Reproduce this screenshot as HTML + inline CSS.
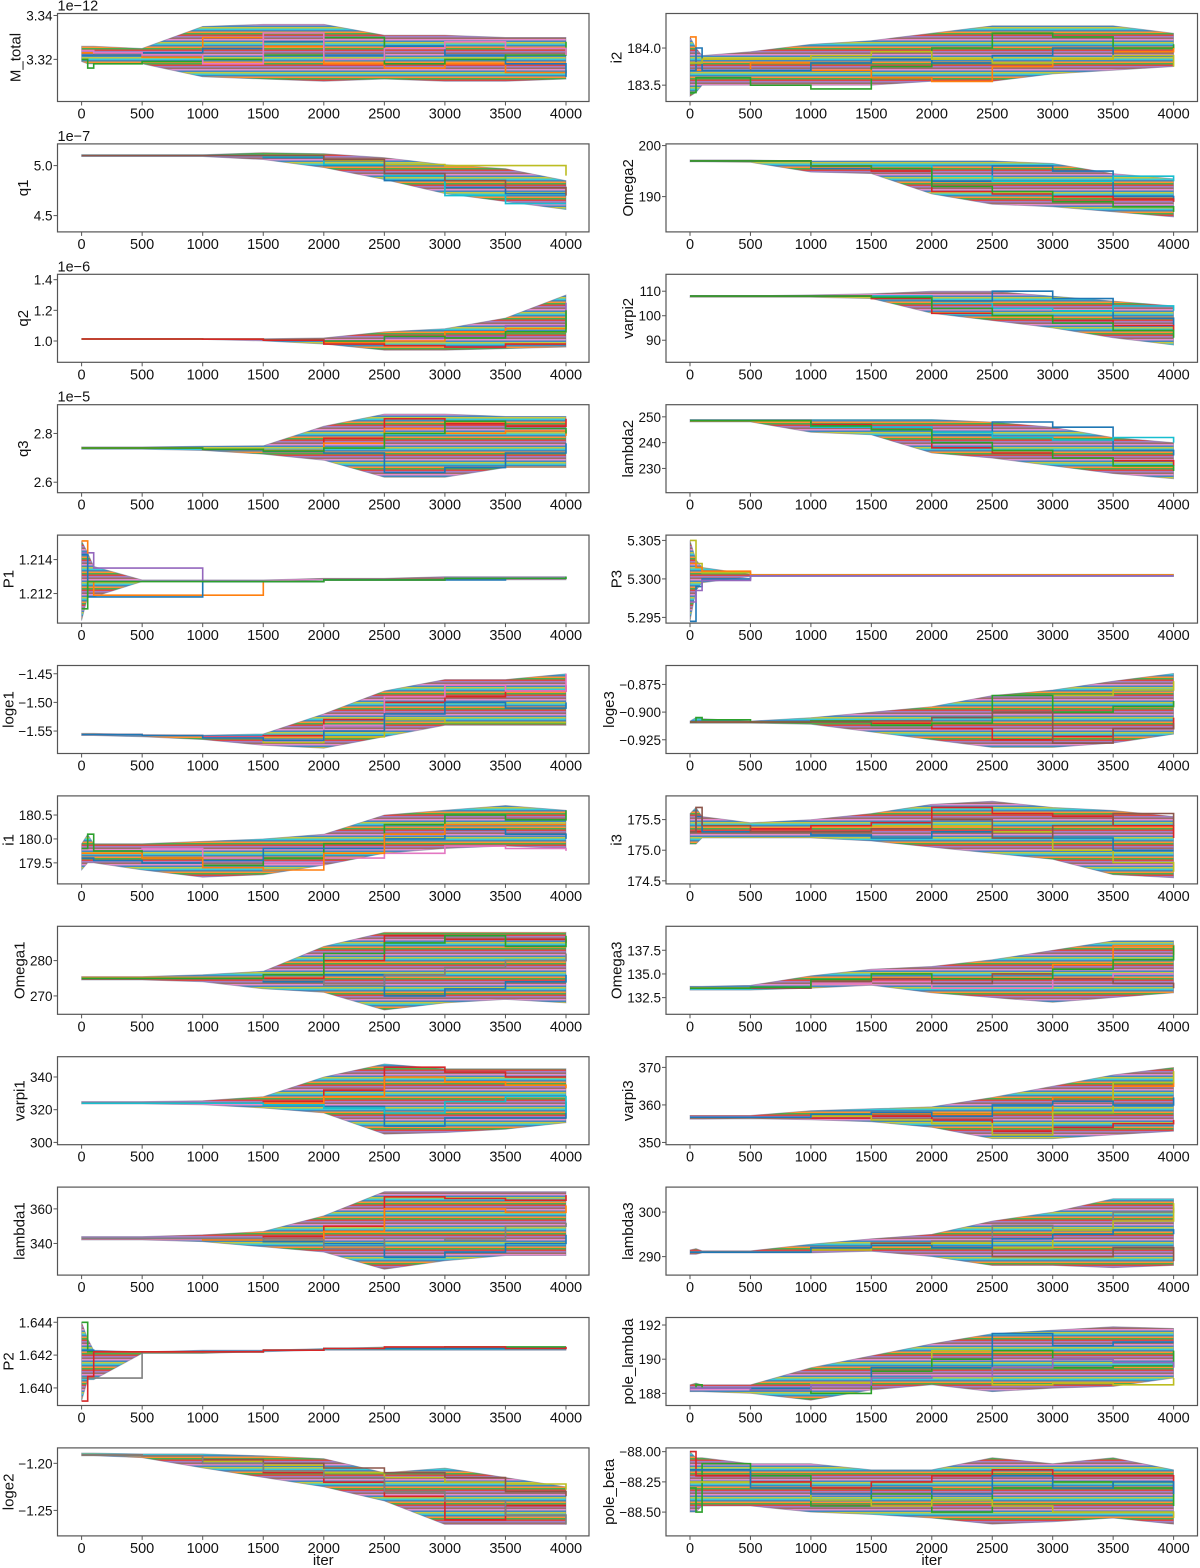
<!DOCTYPE html>
<html><head><meta charset="utf-8">
<style>
html,body{margin:0;padding:0;background:#fff;}
svg{display:block;font-family:"Liberation Sans","DejaVu Sans",sans-serif;}
</style></head>
<body>
<svg id="fig" width="1200" height="1568" viewBox="0 0 1200 1568" xmlns="http://www.w3.org/2000/svg">
<defs>
<pattern id="mix" width="14" height="15" patternUnits="userSpaceOnUse">
<rect x="0" y="0" width="14" height="15" fill="#8a8a9a"/>
<rect x="0" y="0" width="14" height="1.5" fill="#1f77b4"/><rect x="0" y="1.5" width="14" height="1.5" fill="#ff7f0e"/>
<rect x="0" y="3" width="14" height="1.5" fill="#2ca02c"/><rect x="0" y="4.5" width="14" height="1.5" fill="#d62728"/>
<rect x="0" y="6" width="14" height="1.5" fill="#9467bd"/><rect x="0" y="7.5" width="14" height="1.5" fill="#8c564b"/>
<rect x="0" y="9" width="14" height="1.5" fill="#e377c2"/><rect x="0" y="10.5" width="14" height="1.5" fill="#1f77b4"/>
<rect x="0" y="12" width="14" height="1.5" fill="#bcbd22"/><rect x="0" y="13.5" width="14" height="1.5" fill="#17becf"/>
</pattern>
</defs>
</svg>
<script>
const iters=[0,50,100,500,1000,1500,2000,2500,3000,3500,4000];
const xTicks=[0,500,1000,1500,2000,2500,3000,3500,4000];

const mtotalLo=[3.319,3.318,3.318,3.318,3.312,3.311,3.310,3.311,3.310,3.310,3.311];
const mtotalHi=[3.326,3.326,3.326,3.325,3.335,3.336,3.336,3.331,3.331,3.330,3.330];
const mtotalW1=[3.323,3.323,3.322,3.321,3.330,3.326,3.318,3.316,3.318,3.314,3.315];
const mtotalW2=[3.322,3.322,3.322,3.323,3.325,3.328,3.322,3.326,3.322,3.318,3.312];
const mtotalW3=[3.320,3.316,3.318,3.319,3.320,3.322,3.330,3.318,3.320,3.322,3.328];
const mtotalW4=[3.324,3.324,3.323,3.322,3.318,3.332,3.320,3.325,3.328,3.325,3.322];

const q1Lo=[5.09,5.09,5.09,5.09,5.09,5.06,4.98,4.86,4.72,4.64,4.56];
const q1Hi=[5.11,5.11,5.11,5.11,5.11,5.13,5.12,5.08,5.01,4.97,4.85];
const q1W1=[5.10,5.10,5.10,5.10,5.10,5.10,5.05,5.01,5.00,5.00,4.90];
const q1W2=[5.10,5.10,5.10,5.10,5.10,5.08,5.00,4.85,4.78,4.72,4.72];
const q1W3=[5.10,5.10,5.10,5.10,5.10,5.09,5.01,4.90,4.70,4.62,4.62];
const q1W4=[5.10,5.10,5.10,5.10,5.10,5.10,5.06,4.92,4.85,4.78,4.70];

const q2Lo=[1.01,1.01,1.01,1.01,1.01,1.00,0.98,0.94,0.94,0.95,0.96];
const q2Hi=[1.015,1.015,1.015,1.015,1.015,1.015,1.02,1.06,1.08,1.15,1.30];
const q2W1=[1.013,1.013,1.013,1.013,1.012,1.008,1.00,1.02,1.03,1.10,1.25];
const q2W2=[1.013,1.013,1.013,1.013,1.012,1.005,0.99,1.00,1.06,1.08,1.12];
const q2W3=[1.013,1.013,1.013,1.013,1.012,1.006,1.00,1.03,1.02,1.06,1.20];
const q2W4=[1.013,1.013,1.013,1.013,1.012,1.005,0.98,0.97,0.96,0.98,0.98];

const q3Lo=[2.735,2.735,2.735,2.735,2.73,2.715,2.69,2.62,2.62,2.66,2.66];
const q3Hi=[2.745,2.745,2.745,2.745,2.748,2.75,2.83,2.88,2.88,2.87,2.87];
const q3W1=[2.74,2.74,2.74,2.74,2.735,2.725,2.72,2.64,2.66,2.72,2.76];
const q3W2=[2.74,2.74,2.74,2.74,2.735,2.73,2.78,2.86,2.84,2.83,2.86];
const q3W3=[2.74,2.74,2.74,2.74,2.735,2.73,2.76,2.82,2.80,2.81,2.79];
const q3W4=[2.74,2.74,2.74,2.74,2.735,2.728,2.74,2.80,2.85,2.82,2.80];

const p1Lo=[1.2104,1.2118,1.2118,1.2127,1.2127,1.2127,1.2128,1.2128,1.2128,1.2128,1.2128];
const p1Hi=[1.2151,1.2144,1.2136,1.2128,1.2128,1.2128,1.2129,1.2129,1.2130,1.2130,1.2130];
const p1W1=[1.2144,1.2144,1.2135,1.2135,1.2127,1.2127,1.2128,1.2128,1.2129,1.2129,1.2129];
const p1W2=[1.2151,1.2127,1.2119,1.2119,1.2119,1.2127,1.2128,1.2128,1.2129,1.2129,1.2129];
const p1W3=[1.2143,1.2118,1.2118,1.2118,1.2127,1.2127,1.2128,1.2128,1.2128,1.2129,1.2129];
const p1W4=[1.2111,1.2127,1.2127,1.2127,1.2127,1.2127,1.2128,1.2128,1.2129,1.2129,1.2130];

const loge1Lo=[-1.558,-1.558,-1.558,-1.560,-1.565,-1.575,-1.58,-1.56,-1.54,-1.54,-1.54];
const loge1Hi=[-1.554,-1.554,-1.554,-1.556,-1.557,-1.555,-1.52,-1.48,-1.46,-1.46,-1.45];
const loge1W1=[-1.556,-1.556,-1.556,-1.558,-1.560,-1.558,-1.53,-1.50,-1.49,-1.48,-1.47];
const loge1W2=[-1.556,-1.556,-1.556,-1.558,-1.562,-1.57,-1.56,-1.53,-1.535,-1.535,-1.535];
const loge1W3=[-1.556,-1.556,-1.556,-1.558,-1.561,-1.565,-1.54,-1.49,-1.47,-1.48,-1.45];
const loge1W4=[-1.556,-1.556,-1.556,-1.558,-1.562,-1.566,-1.55,-1.52,-1.50,-1.51,-1.50];

const i1Lo=[179.35,179.5,179.5,179.35,179.2,179.25,179.45,179.7,179.8,179.85,179.8];
const i1Hi=[179.9,180.1,179.9,179.9,179.95,180.0,180.1,180.5,180.6,180.7,180.6];
const i1W1=[179.7,179.7,179.7,179.8,179.6,179.5,179.6,179.7,179.85,179.8,179.75];
const i1W2=[179.8,180.1,179.75,179.6,179.45,179.6,179.9,180.3,180.5,180.4,180.6];
const i1W3=[179.6,179.6,179.55,179.5,179.55,179.8,179.8,180.0,180.2,180.1,180.0];
const i1W4=[179.7,179.7,179.7,179.6,179.4,179.35,179.7,180.1,180.3,180.3,180.3];

const omega1Lo=[274.5,274.5,274.5,274.5,274,272,271,266,268,269,268];
const omega1Hi=[275.5,275.5,275.5,275.5,276,277,284,288,288,288,288];
const omega1W1=[275,275,275,275,275,274,276,270,272,274,276];
const omega1W2=[275,275,275,275,275,275,280,287,286,286,285];
const omega1W3=[275,275,275,275,275,274.5,273,276,278,280,282];
const omega1W4=[275,275,275,275,275,276,282,285,287,284,287];

const varpi1Lo=[323.5,323.5,323.5,323.5,323,321,318,305,306,308,312];
const varpi1Hi=[325,325,325,325,325.5,328,340,348,345,345,345];
const varpi1W1=[324,324,324,324,324,323,322,310,315,315,325];
const varpi1W2=[324,324,324,324,324,325,332,346,343,340,340];
const varpi1W3=[324,324,324,324,324,324,328,340,337,335,333];
const varpi1W4=[324,324,324,324,324,323,321,318,325,328,318];

const lambda1Lo=[342,342,342,342,341,338,335,325,330,333,333];
const lambda1Hi=[344,344,344,344,345,347,356,370,370,370,370];
const lambda1W1=[343,343,343,343,343,341,340,332,335,340,345];
const lambda1W2=[343,343,343,343,343,344,350,367,366,365,368];
const lambda1W3=[343,343,343,343,342,342,347,360,360,358,362];
const lambda1W4=[343,343,343,343,343,342,337,343,342,350,352];

const p2Lo=[1.6392,1.6405,1.6405,1.6421,1.6421,1.6422,1.6423,1.6423,1.6423,1.6423,1.6423];
const p2Hi=[1.6440,1.6430,1.6423,1.6422,1.6423,1.6423,1.6424,1.6425,1.6425,1.6425,1.6425];
const p2W1=[1.6406,1.6406,1.6406,1.6422,1.6422,1.6423,1.6424,1.6424,1.6424,1.6424,1.6424];
const p2W2=[1.6440,1.6422,1.6422,1.6422,1.6422,1.6423,1.6424,1.6424,1.6425,1.6425,1.6425];
const p2W3=[1.6423,1.6423,1.6422,1.6422,1.6422,1.6423,1.6424,1.6424,1.6424,1.6424,1.6424];
const p2W4=[1.6392,1.6407,1.6422,1.6422,1.6422,1.6423,1.6424,1.6425,1.6425,1.6424,1.6425];

const loge2Lo=[-1.192,-1.192,-1.192,-1.194,-1.205,-1.215,-1.225,-1.24,-1.265,-1.265,-1.265];
const loge2Hi=[-1.189,-1.189,-1.189,-1.190,-1.190,-1.192,-1.195,-1.210,-1.205,-1.215,-1.225];
const loge2W1=[-1.191,-1.191,-1.191,-1.192,-1.200,-1.210,-1.220,-1.235,-1.260,-1.245,-1.245];
const loge2W2=[-1.191,-1.191,-1.191,-1.192,-1.198,-1.202,-1.210,-1.215,-1.220,-1.222,-1.228];
const loge2W3=[-1.191,-1.191,-1.191,-1.192,-1.196,-1.200,-1.205,-1.210,-1.215,-1.230,-1.235];
const loge2W4=[-1.191,-1.191,-1.191,-1.192,-1.200,-1.208,-1.215,-1.230,-1.240,-1.255,-1.265];

const i2Lo=[183.35,183.4,183.5,183.5,183.5,183.5,183.55,183.55,183.65,183.7,183.75];
const i2Hi=[184.15,184.0,183.9,183.95,184.05,184.1,184.2,184.3,184.3,184.3,184.2];
const i2W1=[183.4,183.6,183.6,183.5,183.45,183.75,184.0,184.2,184.15,184.0,184.05];
const i2W2=[184.15,183.7,183.7,183.8,183.7,183.6,183.55,183.75,183.85,183.95,184.0];
const i2W3=[183.7,184.0,183.7,183.7,183.8,183.85,183.8,183.9,184.0,183.9,183.9];
const i2W4=[183.8,183.8,183.85,183.85,183.9,183.95,183.85,183.8,183.85,183.9,183.75];

const omega2Lo=[196.8,196.8,196.8,196.7,194.8,194.5,190.5,188.5,188,187,186];
const omega2Hi=[197.2,197.2,197.2,197.2,197,197,197,197,196.5,194.5,193.5];
const omega2W1=[197,197,197,197,195.5,195.5,193,196,195,190,189];
const omega2W2=[197,197,197,197,196,196,194,193,193,194,193];
const omega2W3=[197,197,197,197,196,195,191,190.5,190,189.5,189];
const omega2W4=[197,197,197,197,196,195.5,192,191,189,188,187];

const varpi2Lo=[107.5,107.5,107.5,107.5,107.5,107,101,98,95,91,88];
const varpi2Hi=[108.2,108.2,108.2,108.2,108.5,109,110,110,108,106,104];
const varpi2W1=[108,108,108,108,108,108,106,110,107,99,96];
const varpi2W2=[108,108,108,108,108,108,105,103,102,104,102];
const varpi2W3=[108,108,108,108,108,107,101,100,98,96,94];
const varpi2W4=[108,108,108,108,108,107.5,103,100,97,94,91];

const lambda2Lo=[248,248,248,248,244,243,236,234,231,228,226];
const lambda2Hi=[249,249,249,249,249,249,249,248,246,242,240];
const lambda2W1=[248.5,248.5,248.5,248.5,246,246,243,248,246,237,235];
const lambda2W2=[248.5,248.5,248.5,248.5,246,246,244,242,241,242,240];
const lambda2W3=[248.5,248.5,248.5,248.5,247,245,238,236,234,233,231];
const lambda2W4=[248.5,248.5,248.5,248.5,246.5,245,240,237,234,231,229];

const p3Lo=[5.2945,5.2985,5.2995,5.3003,5.3003,5.3003,5.3003,5.3003,5.3003,5.3003,5.3003];
const p3Hi=[5.3050,5.3025,5.3015,5.3006,5.3006,5.3006,5.3006,5.3006,5.3006,5.3006,5.3006];
const p3W1=[5.3050,5.3020,5.3008,5.3005,5.3005,5.3005,5.3005,5.3005,5.3005,5.3005,5.3005];
const p3W2=[5.2945,5.2990,5.3000,5.3004,5.3004,5.3004,5.3004,5.3004,5.3004,5.3004,5.3004];
const p3W3=[5.3020,5.3015,5.3010,5.3005,5.3005,5.3005,5.3005,5.3005,5.3005,5.3005,5.3005];
const p3W4=[5.2970,5.2985,5.2998,5.3004,5.3004,5.3004,5.3004,5.3004,5.3004,5.3004,5.3004];

const loge3Lo=[-0.910,-0.910,-0.910,-0.910,-0.911,-0.918,-0.925,-0.932,-0.932,-0.928,-0.92];
const loge3Hi=[-0.908,-0.905,-0.906,-0.908,-0.905,-0.900,-0.895,-0.885,-0.880,-0.872,-0.865];
const loge3W1=[-0.909,-0.909,-0.909,-0.909,-0.908,-0.910,-0.915,-0.925,-0.922,-0.915,-0.905];
const loge3W2=[-0.909,-0.909,-0.909,-0.909,-0.909,-0.912,-0.905,-0.905,-0.885,-0.880,-0.872];
const loge3W3=[-0.909,-0.905,-0.907,-0.909,-0.908,-0.912,-0.910,-0.885,-0.900,-0.895,-0.890];
const loge3W4=[-0.909,-0.909,-0.909,-0.909,-0.909,-0.908,-0.905,-0.900,-0.928,-0.915,-0.910];

const i3Lo=[175.1,175.1,175.2,175.2,175.2,175.15,175.05,174.95,174.85,174.6,174.55];
const i3Hi=[175.6,175.7,175.55,175.45,175.5,175.6,175.75,175.8,175.7,175.65,175.55];
const i3W1=[175.3,175.3,175.3,175.3,175.3,175.4,175.4,175.3,175.0,174.8,174.65];
const i3W2=[175.3,175.3,175.3,175.35,175.4,175.45,175.7,175.6,175.55,175.4,175.2];
const i3W3=[175.3,175.55,175.3,175.3,175.25,175.2,175.3,175.2,175.2,175.0,175.0];
const i3W4=[175.3,175.7,175.4,175.3,175.3,175.35,175.5,175.2,175.4,175.6,175.4];

const omega3Lo=[133.3,133.3,133.3,133.3,133.5,133.8,133,132.5,132,132.5,133];
const omega3Hi=[133.7,133.7,133.7,133.8,134.8,135.5,135.8,136.5,137.5,138.5,138.5];
const omega3W1=[133.5,133.5,133.5,133.5,134,134.5,134.5,135,136,138,137];
const omega3W2=[133.5,133.5,133.5,133.5,134,134.2,133.5,133.5,134.5,135,135];
const omega3W3=[133.5,133.5,133.5,133.5,134.2,134.5,134,135,134.5,134,133.5];
const omega3W4=[133.5,133.5,133.5,133.6,134.4,135,134.5,134.5,135.5,136.5,138];

const varpi3Lo=[356.2,356.2,356.2,356.3,356,355.5,354,351,351,352,353];
const varpi3Hi=[357.2,357.2,357.2,357.2,358.5,359,359.5,362,365,368,370];
const varpi3W1=[356.7,356.7,356.7,356.7,357.2,357.8,357.5,358,362,365,366];
const varpi3W2=[356.7,356.7,356.7,356.7,356.5,357,356,353,354,355,356];
const varpi3W3=[356.7,356.7,356.7,356.7,357,356,355,352,358,366,369];
const varpi3W4=[356.7,356.7,356.7,356.7,357.5,358,357,360,361,360,362];

const lambda3Lo=[290.5,290.5,290.8,290.8,290.8,291.2,290,288,288,287.5,288];
const lambda3Hi=[291.5,291.8,291.3,291.3,292.8,294,295,298,300,303,303];
const lambda3W1=[291,291,291,291,291.8,293,293.5,297,296,300,301];
const lambda3W2=[291,291,291,291,292,293,292,290,290,292,289];
const lambda3W3=[291,291,291,291,291.5,292.5,293,292,296,298,302];
const lambda3W4=[291,291,291,291,292,292.5,292,294,295,296,295];

const poleLambdaLo=[188.1,188.1,188.1,188.0,187.6,188.2,188.5,188.1,188.3,188.4,188.9];
const poleLambdaHi=[188.5,188.6,188.5,188.5,189.5,190.2,190.9,191.5,191.7,191.9,191.8];
const poleLambdaW1=[188.3,188.3,188.3,188.3,188.6,189.5,190.5,188.5,188.6,188.5,188.9];
const poleLambdaW2=[188.3,188.5,188.3,188.2,188.0,189.3,190.0,190.5,189.5,189.6,190.5];
const poleLambdaW3=[188.3,188.3,188.3,188.3,188.5,189.5,189.5,191.5,190.8,191.0,191.0];
const poleLambdaW4=[188.3,188.3,188.3,188.2,188.5,188.9,189.0,189.5,190.0,189.8,189.5];

const poleBetaLo=[-88.5,-88.5,-88.45,-88.45,-88.5,-88.52,-88.55,-88.6,-88.58,-88.55,-88.6];
const poleBetaHi=[-88.0,-88.05,-88.05,-88.1,-88.1,-88.15,-88.15,-88.05,-88.1,-88.05,-88.15];
const poleBetaW1=[-88.3,-88.5,-88.1,-88.2,-88.45,-88.35,-88.5,-88.3,-88.25,-88.3,-88.45];
const poleBetaW2=[-88.25,-88.25,-88.25,-88.3,-88.4,-88.45,-88.4,-88.45,-88.5,-88.5,-88.55];
const poleBetaW3=[-88.0,-88.2,-88.2,-88.25,-88.3,-88.25,-88.2,-88.15,-88.2,-88.2,-88.3];
const poleBetaW4=[-88.15,-88.15,-88.15,-88.3,-88.35,-88.3,-88.35,-88.2,-88.3,-88.25,-88.35];

const panels=[
 {name:"M_total",col:0,row:0,ylim:[3.3008,3.3409],yt:[3.32,3.34],yl:["3.32","3.34"],off:"1e\u221212",lo:mtotalLo,hi:mtotalHi,w:[mtotalW1,mtotalW2,mtotalW3,mtotalW4],wc:["#ff7f0e","#1f77b4","#2ca02c","#e377c2"]},
 {name:"q1",col:0,row:1,ylim:[4.337,5.217],yt:[4.5,5.0],yl:["4.5","5.0"],off:"1e\u22127",lo:q1Lo,hi:q1Hi,w:[q1W1,q1W2,q1W3,q1W4],wc:["#bcbd22","#1f77b4","#17becf","#8c564b"]},
 {name:"q2",col:0,row:2,ylim:[0.861,1.435],yt:[1.0,1.2,1.4],yl:["1.0","1.2","1.4"],off:"1e\u22126",lo:q2Lo,hi:q2Hi,w:[q2W1,q2W2,q2W3,q2W4],wc:["#9467bd","#ff7f0e","#2ca02c","#d62728"]},
 {name:"q3",col:0,row:3,ylim:[2.557,2.918],yt:[2.6,2.8],yl:["2.6","2.8"],off:"1e\u22125",lo:q3Lo,hi:q3Hi,w:[q3W1,q3W2,q3W3,q3W4],wc:["#1f77b4","#d62728","#ff7f0e","#2ca02c"]},
 {name:"P1",col:0,row:4,ylim:[1.21026,1.21544],yt:[1.212,1.214],yl:["1.212","1.214"],lo:p1Lo,hi:p1Hi,w:[p1W1,p1W2,p1W3,p1W4],wc:["#9467bd","#ff7f0e","#1f77b4","#2ca02c"]},
 {name:"loge1",col:0,row:5,ylim:[-1.5892,-1.4356],yt:[-1.55,-1.50,-1.45],yl:["\u22121.55","\u22121.50","\u22121.45"],lo:loge1Lo,hi:loge1Hi,w:[loge1W1,loge1W2,loge1W3,loge1W4],wc:["#d62728","#bcbd22","#e377c2","#1f77b4"]},
 {name:"i1",col:0,row:6,ylim:[179.06,180.9],yt:[179.5,180.0,180.5],yl:["179.5","180.0","180.5"],lo:i1Lo,hi:i1Hi,w:[i1W1,i1W2,i1W3,i1W4],wc:["#e377c2","#2ca02c","#1f77b4","#ff7f0e"]},
 {name:"Omega1",col:0,row:7,ylim:[264.8,289.7],yt:[270,280],yl:["270","280"],lo:omega1Lo,hi:omega1Hi,w:[omega1W1,omega1W2,omega1W3,omega1W4],wc:["#1f77b4","#d62728","#7f7f7f","#2ca02c"]},
 {name:"varpi1",col:0,row:8,ylim:[298.6,352.4],yt:[300,320,340],yl:["300","320","340"],lo:varpi1Lo,hi:varpi1Hi,w:[varpi1W1,varpi1W2,varpi1W3,varpi1W4],wc:["#1f77b4","#d62728","#ff7f0e","#17becf"]},
 {name:"lambda1",col:0,row:9,ylim:[321.7,372.6],yt:[340,360],yl:["340","360"],lo:lambda1Lo,hi:lambda1Hi,w:[lambda1W1,lambda1W2,lambda1W3,lambda1W4],wc:["#1f77b4","#d62728","#ff7f0e","#7f7f7f"]},
 {name:"P2",col:0,row:10,ylim:[1.63893,1.64429],yt:[1.640,1.642,1.644],yl:["1.640","1.642","1.644"],lo:p2Lo,hi:p2Hi,w:[p2W1,p2W2,p2W3,p2W4],wc:["#7f7f7f","#2ca02c","#1f77b4","#d62728"]},
 {name:"loge2",col:0,row:11,ylim:[-1.2771,-1.1836],yt:[-1.25,-1.20],yl:["\u22121.25","\u22121.20"],lo:loge2Lo,hi:loge2Hi,w:[loge2W1,loge2W2,loge2W3,loge2W4],wc:["#d62728","#bcbd22","#8c564b","#7f7f7f"]},
 {name:"i2",col:1,row:0,ylim:[183.28,184.465],yt:[183.5,184.0],yl:["183.5","184.0"],lo:i2Lo,hi:i2Hi,w:[i2W1,i2W2,i2W3,i2W4],wc:["#2ca02c","#ff7f0e","#1f77b4","#bcbd22"]},
 {name:"Omega2",col:1,row:1,ylim:[183.08,200.33],yt:[190,200],yl:["190","200"],lo:omega2Lo,hi:omega2Hi,w:[omega2W1,omega2W2,omega2W3,omega2W4],wc:["#1f77b4","#17becf","#d62728","#2ca02c"]},
 {name:"varpi2",col:1,row:2,ylim:[81.0,116.9],yt:[90,100,110],yl:["90","100","110"],lo:varpi2Lo,hi:varpi2Hi,w:[varpi2W1,varpi2W2,varpi2W3,varpi2W4],wc:["#1f77b4","#17becf","#d62728","#2ca02c"]},
 {name:"lambda2",col:1,row:3,ylim:[220.6,254.7],yt:[230,240,250],yl:["230","240","250"],lo:lambda2Lo,hi:lambda2Hi,w:[lambda2W1,lambda2W2,lambda2W3,lambda2W4],wc:["#1f77b4","#17becf","#d62728","#2ca02c"]},
 {name:"P3",col:1,row:4,ylim:[5.29426,5.30569],yt:[5.295,5.300,5.305],yl:["5.295","5.300","5.305"],lo:p3Lo,hi:p3Hi,w:[p3W1,p3W2,p3W3,p3W4],wc:["#bcbd22","#1f77b4","#ff7f0e","#9467bd"]},
 {name:"loge3",col:1,row:5,ylim:[-0.9374,-0.8579],yt:[-0.925,-0.900,-0.875],yl:["\u22120.925","\u22120.900","\u22120.875"],lo:loge3Lo,hi:loge3Hi,w:[loge3W1,loge3W2,loge3W3,loge3W4],wc:["#d62728","#bcbd22","#2ca02c","#8c564b"]},
 {name:"i3",col:1,row:6,ylim:[174.45,175.887],yt:[174.5,175.0,175.5],yl:["174.5","175.0","175.5"],lo:i3Lo,hi:i3Hi,w:[i3W1,i3W2,i3W3,i3W4],wc:["#bcbd22","#d62728","#1f77b4","#8c564b"]},
 {name:"Omega3",col:1,row:7,ylim:[130.74,140.03],yt:[132.5,135.0,137.5],yl:["132.5","135.0","137.5"],lo:omega3Lo,hi:omega3Hi,w:[omega3W1,omega3W2,omega3W3,omega3W4],wc:["#ff7f0e","#e377c2","#8c564b","#2ca02c"]},
 {name:"varpi3",col:1,row:8,ylim:[349.4,372.85],yt:[350,360,370],yl:["350","360","370"],lo:varpi3Lo,hi:varpi3Hi,w:[varpi3W1,varpi3W2,varpi3W3,varpi3W4],wc:["#ff7f0e","#d62728","#bcbd22","#1f77b4"]},
 {name:"lambda3",col:1,row:9,ylim:[285.85,305.6],yt:[290,300],yl:["290","300"],lo:lambda3Lo,hi:lambda3Hi,w:[lambda3W1,lambda3W2,lambda3W3,lambda3W4],wc:["#7f7f7f","#8c564b","#bcbd22","#1f77b4"]},
 {name:"pole_lambda",col:1,row:10,ylim:[187.29,192.44],yt:[188,190,192],yl:["188","190","192"],lo:poleLambdaLo,hi:poleLambdaHi,w:[poleLambdaW1,poleLambdaW2,poleLambdaW3,poleLambdaW4],wc:["#bcbd22","#2ca02c","#1f77b4","#9467bd"]},
 {name:"pole_beta",col:1,row:11,ylim:[-88.697,-87.969],yt:[-88.5,-88.25,-88.0],yl:["\u221288.50","\u221288.25","\u221288.00"],lo:poleBetaLo,hi:poleBetaHi,w:[poleBetaW1,poleBetaW2,poleBetaW3,poleBetaW4],wc:["#2ca02c","#bcbd22","#d62728","#1f77b4"]}
];

const NS="http://www.w3.org/2000/svg";
const svg=document.getElementById('fig');
const cols=[{left:57.5,right:589,x0:81.6,x1:566,minLab:9},{left:666,right:1197.5,x0:690,x1:1173.6,minLab:609}];
function mk(tag,attrs,parent){const e=document.createElementNS(NS,tag);for(const k in attrs)e.setAttribute(k,attrs[k]);(parent||svg).appendChild(e);return e;}
const FS=13.5;

panels.forEach(p=>{
  const c=cols[p.col];
  const top=13.5+130.4*p.row, bot=top+88;
  const sx=v=>c.x0+(v-0)*(c.x1-c.x0)/4000;
  const sy=v=>bot-(v-p.ylim[0])*(bot-top)/(p.ylim[1]-p.ylim[0]);
  const slug=p.name.toLowerCase().replace(/_/g,'-');
  const g=mk('g',{});
  
  
  const clipId='clip-'+slug;
  const cp=mk('clipPath',{id:clipId},g);
  mk('rect',{x:c.left,y:top,width:c.right-c.left,height:bot-top},cp);
  const plot=mk('g',{'clip-path':'url(#'+clipId+')'},g);
  let pts=[];
  for(let i=0;i<iters.length;i++)pts.push(sx(iters[i]).toFixed(1)+','+sy(p.hi[i]).toFixed(1));
  for(let i=iters.length-1;i>=0;i--)pts.push(sx(iters[i]).toFixed(1)+','+sy(p.lo[i]).toFixed(1));
  const band=mk('polygon',{points:pts.join(' '),fill:'url(#mix)','fill-opacity':'0.85',stroke:'#6a6a8a','stroke-width':'0.8','stroke-opacity':'0.5'},plot);
  
  
  p.w.forEach((arr,k)=>{
    let d='M'+sx(iters[0]).toFixed(1)+','+sy(arr[0]).toFixed(1);
    for(let i=1;i<iters.length;i++){d+=' H'+sx(iters[i]).toFixed(1)+' V'+sy(arr[i]).toFixed(1);}
    const ln=mk('path',{d:d,fill:'none',stroke:p.wc[k],'stroke-width':'1.6'},plot);
    
    
  });
  const fr=mk('rect',{x:c.left,y:top,width:c.right-c.left,height:bot-top,fill:'none',stroke:'#555','stroke-width':'1.2'},g);
  
  
  xTicks.forEach(t=>{
    const x=sx(t);
    mk('line',{x1:x,x2:x,y1:bot,y2:bot+4,stroke:'#555','stroke-width':'1'},g);
    const tx=mk('text',{x:x,y:bot+17,'text-anchor':'middle','font-size':FS+1,fill:'#111'},g);
    tx.textContent=String(t);
    
    
  });
  let maxW=0;
  p.yt.forEach((t,i)=>{
    const y=sy(t);
    mk('line',{x1:c.left-4,x2:c.left,y1:y,y2:y,stroke:'#555','stroke-width':'1'},g);
    const tx=mk('text',{x:c.left-5,y:y+5,'text-anchor':'end','font-size':FS,fill:'#111'},g);
    tx.textContent=p.yl[i];
    
    
    try{maxW=Math.max(maxW,tx.getComputedTextLength());}catch(e){maxW=Math.max(maxW,p.yl[i].length*7.5);}
  });
  const lx=Math.max(c.left-5-maxW-10, c.minLab), ly=(top+bot)/2;
  const yl=mk('text',{x:lx,y:ly,'text-anchor':'middle','dominant-baseline':'central','font-size':15,fill:'#111',transform:'rotate(-90 '+lx+' '+ly+')'},g);
  yl.textContent=p.name;
  
  
  if(p.off){
    const ot=mk('text',{x:c.left,y:top-3,'font-size':FS+1,fill:'#111'},g);
    ot.textContent=p.off;
    
    
  }
  if(p.row===11){
    const xl=mk('text',{x:(c.left+c.right)/2,y:bot+29,'text-anchor':'middle','font-size':15,fill:'#111'},g);
    xl.textContent='iter';
    
    
  }
});
</script>
</body></html>
